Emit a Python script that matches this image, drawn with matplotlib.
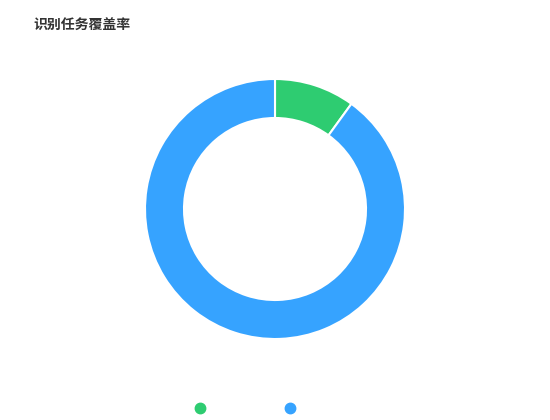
import matplotlib
matplotlib.use('Agg')
import matplotlib.pyplot as plt

plt.rcParams['font.family'] = ['Noto Sans CJK SC', 'DejaVu Sans']

# data
title = '识别任务覆盖率'
labels = ['', '']
values = [10, 90]
colors = ['#2ecc71', '#36a3ff']

fig = plt.figure(figsize=(5.5, 4.2), dpi=100)
fig.text(33/550, 1 - 26/420, title, fontsize=10, fontweight='bold',
         color='#333333', va='center', ha='left')

# donut: center (275,209), outer radius 130px
r = 130
ax = fig.add_axes([(275 - r)/550, 1 - (209 + r)/420, 2*r/550, 2*r/420])
ax.pie(values, labels=None, colors=colors, startangle=90, counterclock=False,
       wedgeprops=dict(width=39/130, edgecolor='white', linewidth=1.5),
       radius=1)
ax.set_xlim(-1, 1)
ax.set_ylim(-1, 1)
ax.set_aspect('equal')
ax.axis('off')

# legend dots (no text labels)
lax = fig.add_axes([0, 0, 1, 1])
lax.set_xlim(0, 550)
lax.set_ylim(420, 0)
lax.axis('off')
for i, c in enumerate(colors):
    lax.plot(200 + i*90, 408, 'o', color=c, markersize=7.5)

fig.savefig('out.png', dpi=100)
